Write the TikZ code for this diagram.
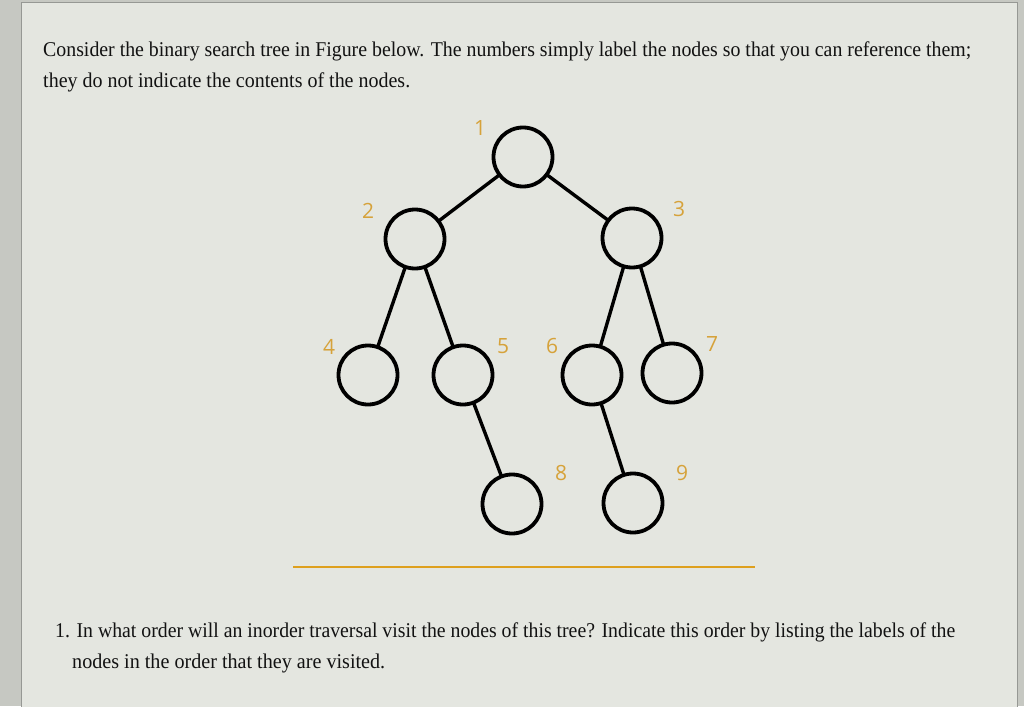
\documentclass[tikz,border=0pt]{standalone}
\usepackage{fontspec}
\usepackage{graphicx}
\setmainfont{Liberation Serif}
\newfontfamily\labfont{Open Sans}
\definecolor{outergray}{RGB}{198,200,194}
\definecolor{panel}{RGB}{228,230,224}
\definecolor{framegray}{RGB}{150,152,148}
\definecolor{txtcol}{RGB}{18,18,18}
\definecolor{labcol}{RGB}{214,162,58}
\definecolor{rulecol}{RGB}{222,160,30}
\begin{document}
\begin{tikzpicture}[x=1pt,y=-1pt,
  treenode/.style={circle, draw=black, line width=3.8pt, minimum size=59pt, inner sep=0pt, outer sep=0pt},
  edge/.style={draw=black, line width=3.4pt},
  numlab/.style={font=\labfont\fontsize{21}{24}\selectfont, text=labcol, inner sep=0pt},
  para/.style={font=\fontsize{21}{24}\selectfont, text=txtcol, inner sep=0pt, anchor=base west}]
\useasboundingbox (0,0) rectangle (1024,706);
\fill[outergray] (0,0) rectangle (1024,706);
\filldraw[fill=panel, draw=framegray, line width=1pt] (21,3) rectangle (1017,730);

% text
\node[para] (t1) at (43,57) {\resizebox{928pt}{\height}{Consider the binary search tree in Figure below. The numbers simply label the nodes so that you can reference them;}};
\node[para] (t2) at (43,87.5) {\resizebox{367pt}{\height}{they do not indicate the contents of the nodes.}};
\node[para] (q1) at (55,637) {\resizebox{900pt}{\height}{1. In what order will an inorder traversal visit the nodes of this tree? Indicate this order by listing the labels of the}};
\node[para] (q2) at (72,668) {\resizebox{313pt}{\height}{nodes in the order that they are visited.}};

% tree
\node[treenode] (n1) at (523,157) {};
\node[treenode] (n2) at (415,239) {};
\node[treenode] (n3) at (632,238) {};
\node[treenode] (n4) at (368,375) {};
\node[treenode] (n5) at (463,375) {};
\node[treenode] (n6) at (592,375) {};
\node[treenode] (n7) at (672,373) {};
\node[treenode] (n8) at (512,504) {};
\node[treenode] (n9) at (633,503) {};

\draw[edge] (n1) -- (n2);
\draw[edge] (n1) -- (n3);
\draw[edge] (n2) -- (n4);
\draw[edge] (n2) -- (n5);
\draw[edge] (n3) -- (n6);
\draw[edge] (n3) -- (n7);
\draw[edge] (n5) -- (n8);
\draw[edge] (n6) -- (n9);

% labels
\node[numlab] (l1) at (480,128) {1};
\node[numlab] (l2) at (368,211) {2};
\node[numlab] (l3) at (679,209) {3};
\node[numlab] (l4) at (329,347) {4};
\node[numlab] (l5) at (503,346) {5};
\node[numlab] (l6) at (552,346) {6};
\node[numlab] (l7) at (712,344) {7};
\node[numlab] (l8) at (561,473) {8};
\node[numlab] (l9) at (682,473) {9};

% rule
\coordinate (r1) at (293,567);
\coordinate (r2) at (755,567);
\draw[rulecol, line width=2pt] (r1) -- (r2);
\end{tikzpicture}
\end{document}
